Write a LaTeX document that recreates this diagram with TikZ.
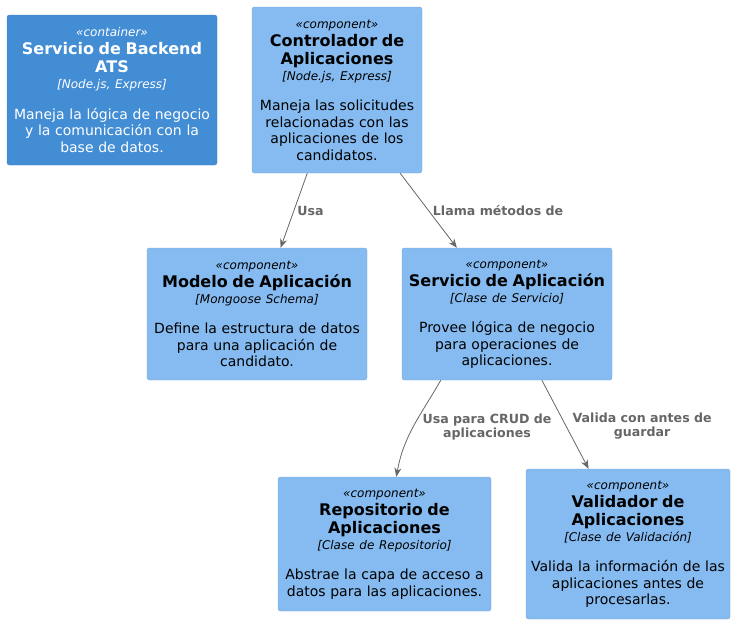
\documentclass[tikz,border=0pt]{standalone}
\usepackage{fontspec}
\setmainfont{DejaVu Sans}
\usetikzlibrary{arrows.meta}
\definecolor{contfill}{HTML}{438DD5}
\definecolor{contline}{HTML}{3C7FC0}
\definecolor{compfill}{HTML}{85BBF0}
\definecolor{compline}{HTML}{78A8D8}
\definecolor{relgray}{HTML}{666666}
% stereotype, title, technology, description
\newcommand{\elemtext}[4]{\parindent=0pt\parskip=0pt%
  {\fontsize{12}{14}\selectfont\itshape «#1»\par}%
  {\fontsize{16}{18}\selectfont\bfseries #2\par}%
  {\fontsize{12}{16}\selectfont\itshape [#3]\par}\vspace{14pt}%
  #4}
\tikzset{
  elem/.style={rectangle, rounded corners=2.5pt, inner sep=0pt, align=center,
               font=\fontsize{14}{16.5}\selectfont},
  cont/.style={elem, fill=contfill, draw=contline, text=white},
  comp/.style={elem, fill=compfill, draw=compline, text=black},
  rel/.style={draw=relgray, line width=0.8pt, -{Stealth[length=9pt, width=7pt]}},
  lbl/.style={text=relgray, font=\fontsize{12.6}{14}\selectfont\bfseries, align=center, inner sep=2pt}
}
\begin{document}
\begin{tikzpicture}[x=1pt, y=1pt]
  \useasboundingbox (0, 0) rectangle (735, -624);
  \node[cont, text width=210, minimum height=150] (be) at (112, -90)
       {\elemtext{container}{Servicio de Backend\\ATS}{Node.js, Express}
        {Maneja la lógica de negocio\\y la comunicación con la\\base de datos.}};
  \node[comp, text width=170, minimum height=166] (ctl) at (337, -90)
       {\elemtext{component}{Controlador de\\Aplicaciones}{Node.js, Express}
        {Maneja las solicitudes\\relacionadas con las\\aplicaciones de los\\candidatos.}};
  \node[comp, text width=220, minimum height=132] (mdl) at (257, -314)
       {\elemtext{component}{Modelo de Aplicación}{Mongoose Schema}
        {Define la estructura de datos\\para una aplicación de\\candidato.}};
  \node[comp, text width=210, minimum height=132] (svc) at (507, -314)
       {\elemtext{component}{Servicio de Aplicación}{Clase de Servicio}
        {Provee lógica de negocio\\para operaciones de\\aplicaciones.}};
  \node[comp, text width=213, minimum height=134] (rep) at (384.5, -544)
       {\elemtext{component}{Repositorio de\\Aplicaciones}{Clase de Repositorio}
        {Abstrae la capa de acceso a\\datos para las aplicaciones.}};
  \node[comp, text width=204, minimum height=150] (val) at (628, -544)
       {\elemtext{component}{Validador de\\Aplicaciones}{Clase de Validación}
        {Valida la información de las\\aplicaciones antes de\\procesarlas.}};
  \draw[rel] (ctl) -- (mdl) node[lbl, pos=.5, anchor=west, xshift=1pt] (usa) {Usa};
  \draw[rel] (ctl) -- (svc) node[lbl, pos=.5, anchor=west, xshift=2pt] (llama) {Llama métodos de};
  \draw[rel] ([xshift=39pt]svc.south west) to[out=-120, in=80] (rep);
  \node[lbl] (crud) at (487, -427) {Usa para CRUD de\\aplicaciones};
  \draw[rel] (svc) -- (val) node[lbl, pos=.5, anchor=west, xshift=5pt, yshift=-2pt] (valida) {Valida con antes de\\guardar};
\end{tikzpicture}
\end{document}
